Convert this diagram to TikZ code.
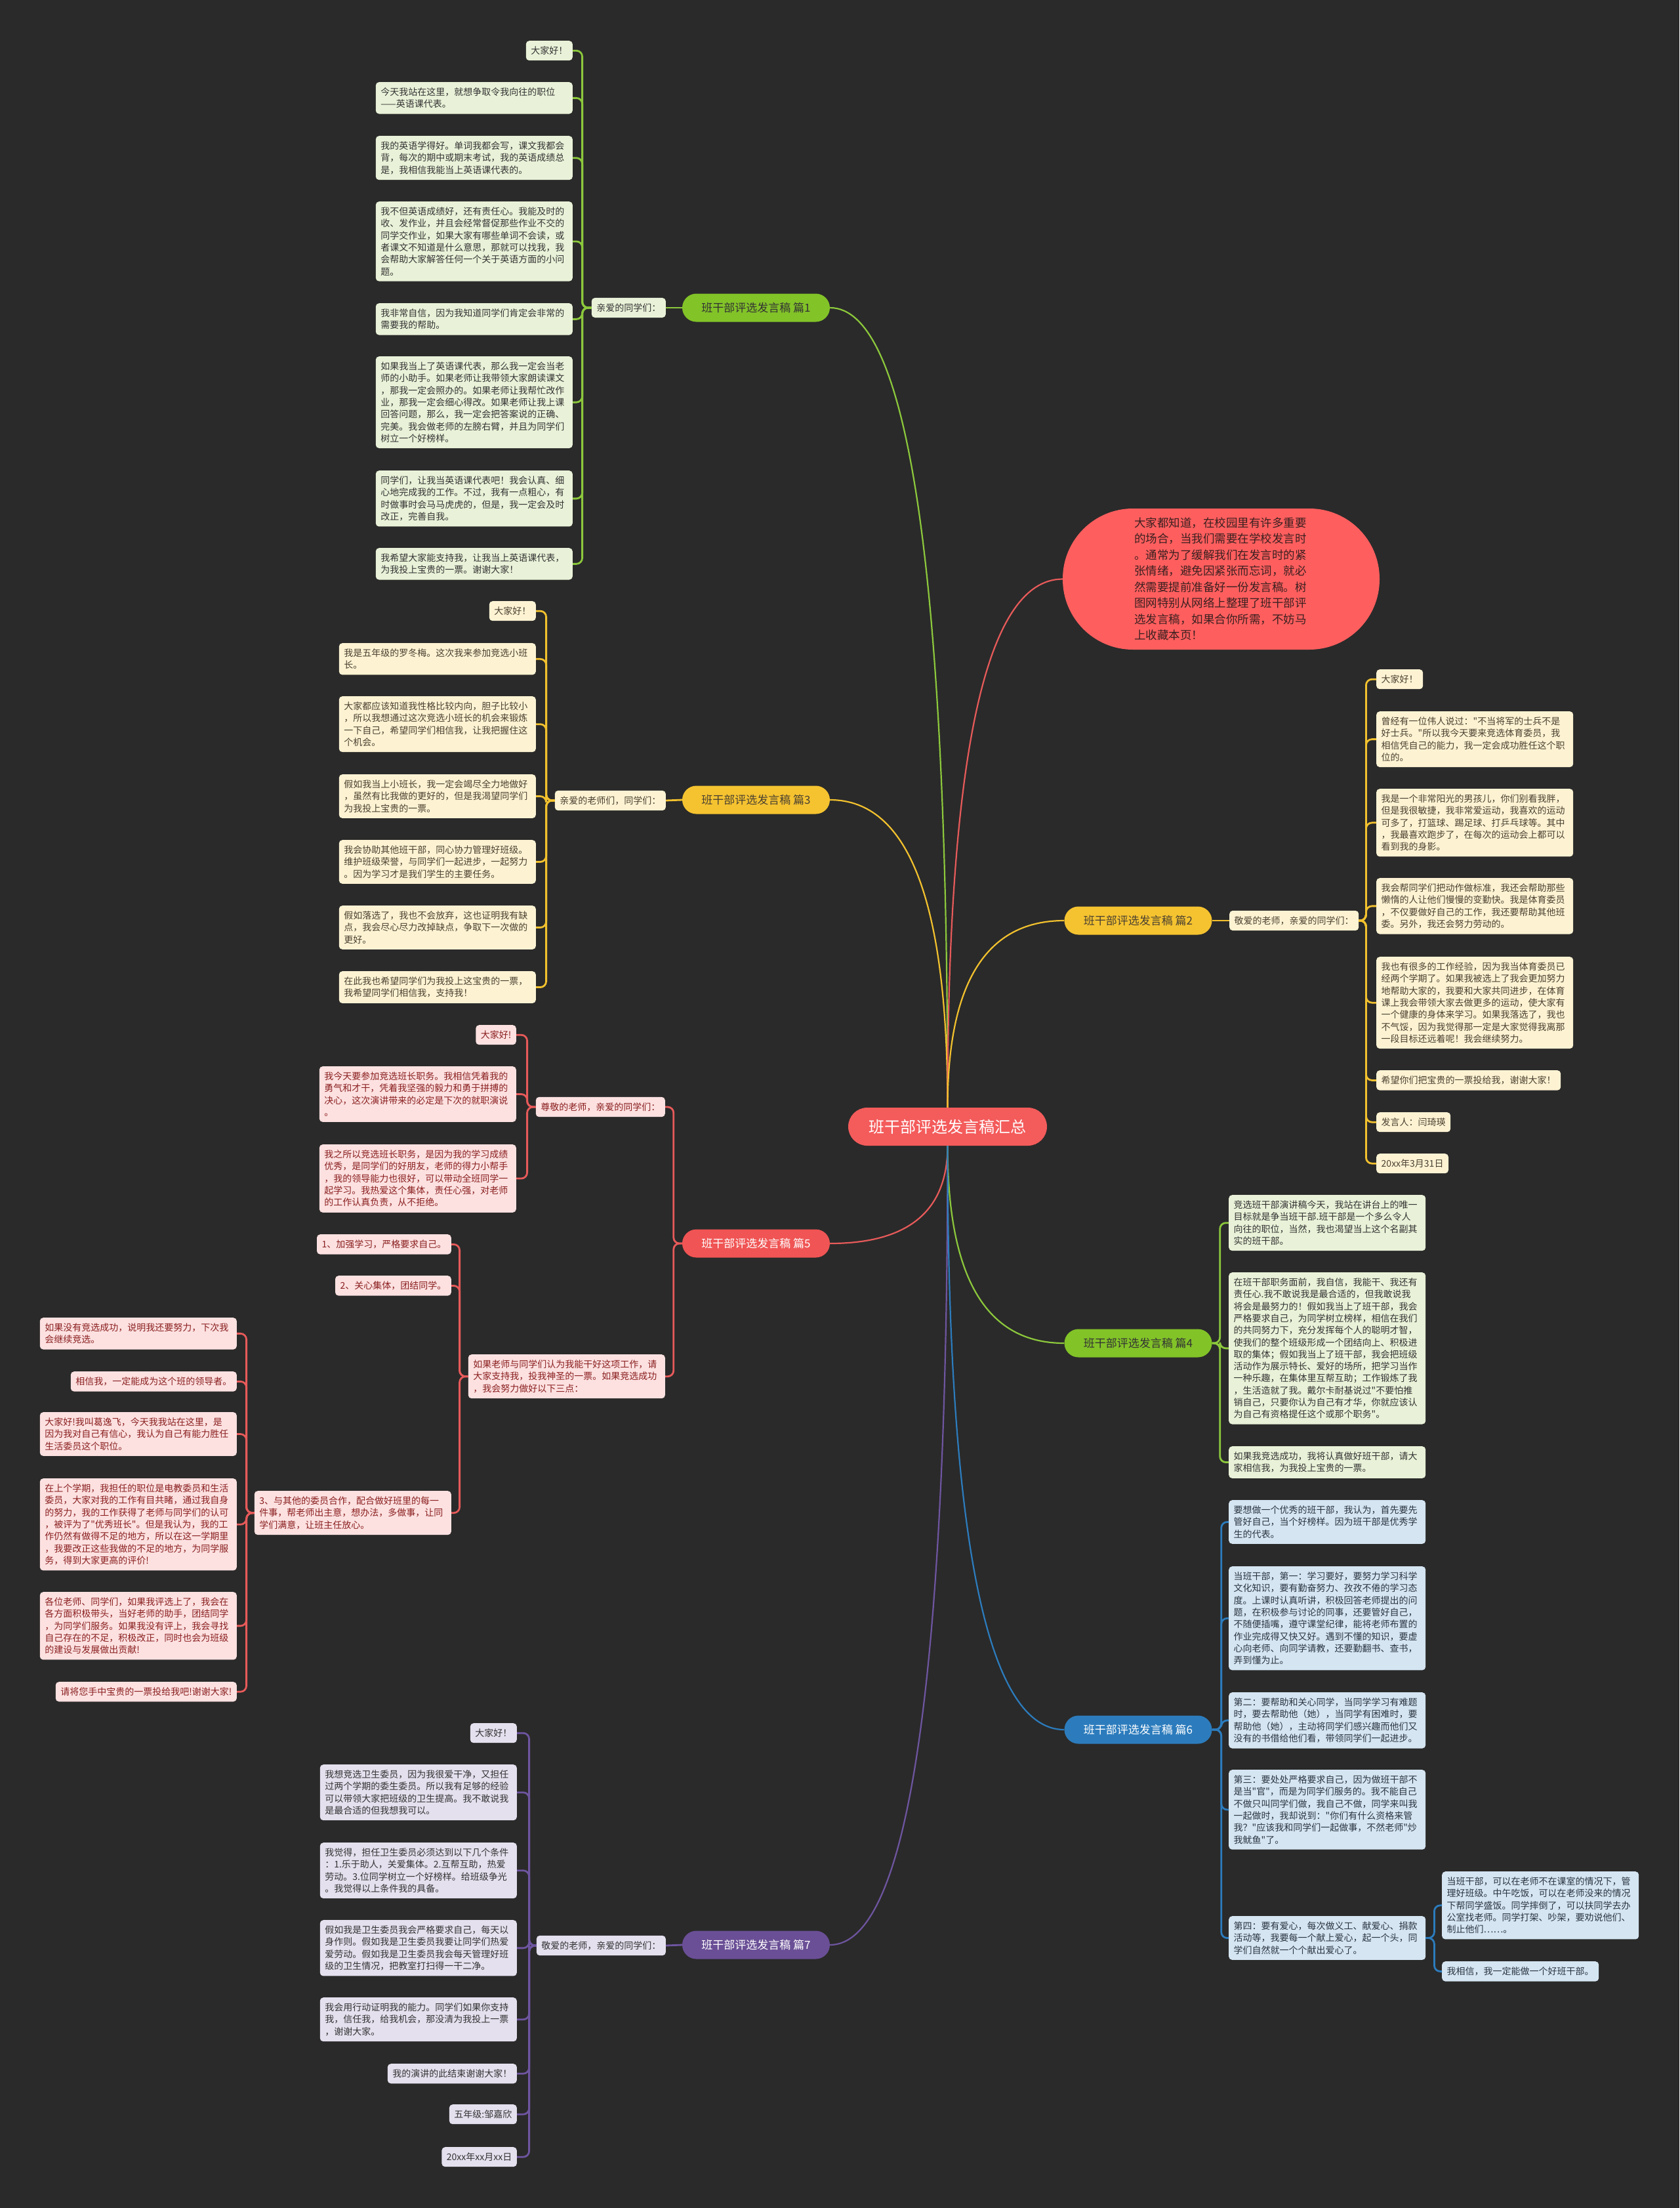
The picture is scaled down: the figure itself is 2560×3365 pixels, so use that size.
\documentclass[tikz,border=0pt]{standalone}
\usepackage{fontspec}
\newfontfamily\cjk{Noto Sans CJK SC}
\definecolor{bg}{HTML}{2A2A2A}
\definecolor{gNode}{HTML}{82C328}
\definecolor{gLeaf}{HTML}{E9F2D8}
\definecolor{gLine}{HTML}{8CC83C}
\definecolor{gTxt}{HTML}{333333}
\definecolor{yNode}{HTML}{F5C330}
\definecolor{yLeaf}{HTML}{FDF3D3}
\definecolor{yLine}{HTML}{F2C12E}
\definecolor{yTxt}{HTML}{4A4030}
\definecolor{rNode}{HTML}{F05454}
\definecolor{rLeaf}{HTML}{FDE1E1}
\definecolor{rLine}{HTML}{E75A5A}
\definecolor{rTxt}{HTML}{8A1F1F}
\definecolor{pNode}{HTML}{6A4F96}
\definecolor{pLeaf}{HTML}{E4E0EE}
\definecolor{pLine}{HTML}{6E55A0}
\definecolor{pTxt}{HTML}{333333}
\definecolor{bNode}{HTML}{2C7CBD}
\definecolor{bLeaf}{HTML}{D5E5F2}
\definecolor{bLine}{HTML}{2C7CBD}
\definecolor{bTxt}{HTML}{2A3440}
\definecolor{rootFill}{HTML}{F45B5B}
\definecolor{introFill}{HTML}{FF5E5E}
\definecolor{introTxt}{HTML}{3A2020}
\tikzset{
  base/.style={rounded corners=5pt, inner xsep=7.5pt, inner ysep=8.5pt,
    font=\cjk\fontsize{14}{18.3}\selectfont, align=left},
  w/.style={text width=285pt},
  gl/.style={base, fill=gLeaf, text=gTxt},
  yl/.style={base, fill=yLeaf, text=yTxt},
  rl/.style={base, fill=rLeaf, text=rTxt},
  pl/.style={base, fill=pLeaf, text=pTxt},
  bl/.style={base, fill=bLeaf, text=bTxt},
  branchbox/.style={rounded corners=21.5pt, minimum width=225pt, minimum height=43pt,
    inner sep=0pt, font=\cjk\fontsize{17}{20}\selectfont},
  spine/.style={line width=2.8pt, rounded corners=9pt},
  curve/.style={line width=2.2pt},
}
\begin{document}
\begin{tikzpicture}[x=1pt,y=-1pt]
\fill[bg] (0,0) rectangle (2560,3365);
\useasboundingbox (0,0) rectangle (2560,3365);

% root and intro
\node[rounded corners=29pt, minimum width=303pt, minimum height=58pt, inner sep=0pt,
  fill=rootFill, text=white, font=\cjk\fontsize{24}{28}\selectfont] (root) at (1444.5,1717) {班干部评选发言稿汇总};
\coordinate (ctop) at (root.north);
\coordinate (cbot) at (root.south);
\node[rounded corners=107pt, minimum width=483pt, minimum height=215pt, text width=265pt,
  align=left, fill=introFill, text=introTxt, font=\cjk\fontsize{17.5}{24.5}\selectfont]
  (intro) at (1861.5,882.5) {大家都知道，在校园里有许多重要\\的场合，当我们需要在学校发言时\\。通常为了缓解我们在发言时的紧\\张情绪，避免因紧张而忘词，就必\\然需要提前准备好一份发言稿。树\\图网特别从网络上整理了班干部评\\选发言稿，如果合你所需，不妨马\\上收藏本页！};

% branch nodes
\node[branchbox, fill=gNode, text=gTxt] (P1) at (1152.5,469) {班干部评选发言稿 篇1};
\node[branchbox, fill=yNode, text=yTxt] (P3) at (1152.5,1219) {班干部评选发言稿 篇3};
\node[branchbox, fill=rNode, text=white] (P5) at (1152.5,1895) {班干部评选发言稿 篇5};
\node[branchbox, fill=pNode, text=white] (P7) at (1152.5,2964) {班干部评选发言稿 篇7};
\node[branchbox, fill=yNode, text=yTxt] (P2) at (1735,1403) {班干部评选发言稿 篇2};
\node[branchbox, fill=gNode, text=gTxt] (P4) at (1735,2047) {班干部评选发言稿 篇4};
\node[branchbox, fill=bNode, text=white] (P6) at (1735,2636) {班干部评选发言稿 篇6};

% root curves
\draw[curve, gLine] (ctop) .. controls +(0,-813) and +(120,0) .. (P1.east);
\draw[curve, yLine] (ctop) .. controls +(0,-313) and +(120,0) .. (P3.east);
\draw[curve, rLine] (ctop) .. controls +(0,-537) and +(-117,0) .. (intro.west);
\draw[curve, yLine] (ctop) .. controls +(0,-190) and +(-119,0) .. (P2.west);
\draw[curve, rLine] (cbot) .. controls +(0,99) and +(120,0) .. (P5.east);
\draw[curve, pLine] (cbot) .. controls +(0,812) and +(120,0) .. (P7.east);
\draw[curve, gLine] (cbot) .. controls +(0,201) and +(-119,0) .. (P4.west);
\draw[curve, bLine] (cbot) .. controls +(0,593) and +(-119,0) .. (P6.west);

% ---------- branch 1 ----------
\node[gl, anchor=east] (g0) at (1015,469) {亲爱的同学们：};
\node[gl, anchor=north east] (g1) at (873,62) {大家好！};
\node[gl, w, anchor=north east] (g2) at (873,125) {今天我站在这里，就想争取令我向往的职位\\——英语课代表。};
\node[gl, w, anchor=north east] (g3) at (873,207) {我的英语学得好。单词我都会写，课文我都会\\背，每次的期中或期末考试，我的英语成绩总\\是，我相信我能当上英语课代表的。};
\node[gl, w, anchor=north east] (g4) at (873,307) {我不但英语成绩好，还有责任心。我能及时的\\收、发作业，并且会经常督促那些作业不交的\\同学交作业，如果大家有哪些单词不会读，或\\者课文不知道是什么意思，那就可以找我，我\\会帮助大家解答任何一个关于英语方面的小问\\题。};
\node[gl, w, anchor=north east] (g5) at (873,462) {我非常自信，因为我知道同学们肯定会非常的\\需要我的帮助。};
\node[gl, w, anchor=north east] (g6) at (873,543) {如果我当上了英语课代表，那么我一定会当老\\师的小助手。如果老师让我带领大家朗读课文\\，那我一定会照办的。如果老师让我帮忙改作\\业，那我一定会细心得改。如果老师让我上课\\回答问题，那么，我一定会把答案说的正确、\\完美。我会做老师的左膀右臂，并且为同学们\\树立一个好榜样。};
\node[gl, w, anchor=north east] (g7) at (873,717) {同学们，让我当英语课代表吧！我会认真、细\\心地完成我的工作。不过，我有一点粗心，有\\时做事时会马马虎虎的，但是，我一定会及时\\改正，完善自我。};
\node[gl, w, anchor=north east] (g8) at (873,835) {我希望大家能支持我，让我当上英语课代表，\\为我投上宝贵的一票。谢谢大家！};
\draw[spine, gLine] (P1.west) -- (g0.east);
\foreach \c in {g1,g2,g3,g4,g5,g6,g7,g8}
  \draw[spine, gLine] (g0.west) -- ++(-14,0) |- (\c.east);

% ---------- branch 3 ----------
\node[yl, anchor=east] (y0) at (1015,1220) {亲爱的老师们，同学们：};
\node[yl, anchor=north east] (y1) at (817,916) {大家好！};
\node[yl, w, anchor=north east] (y2) at (817,980) {我是五年级的罗冬梅。这次我来参加竞选小班\\长。};
\node[yl, w, anchor=north east] (y3) at (817,1061) {大家都应该知道我性格比较内向，胆子比较小\\，所以我想通过这次竞选小班长的机会来锻炼\\一下自己，希望同学们相信我，让我把握住这\\个机会。};
\node[yl, w, anchor=north east] (y4) at (817,1180) {假如我当上小班长，我一定会竭尽全力地做好\\，虽然有比我做的更好的，但是我渴望同学们\\为我投上宝贵的一票。};
\node[yl, w, anchor=north east] (y5) at (817,1280) {我会协助其他班干部，同心协力管理好班级。\\维护班级荣誉，与同学们一起进步，一起努力\\。因为学习才是我们学生的主要任务。};
\node[yl, w, anchor=north east] (y6) at (817,1380) {假如落选了，我也不会放弃，这也证明我有缺\\点，我会尽心尽力改掉缺点，争取下一次做的\\更好。};
\node[yl, w, anchor=north east] (y7) at (817,1480) {在此我也希望同学们为我投上这宝贵的一票，\\我希望同学们相信我，支持我！};
\draw[spine, yLine] (P3.west) -- (y0.east);
\foreach \c in {y1,y2,y3,y4,y5,y6,y7}
  \draw[spine, yLine] (y0.west) -- ++(-13,0) |- (\c.east);

% ---------- branch 5 ----------
\node[rl, anchor=east] (r0) at (1014,1687) {尊敬的老师，亲爱的同学们：};
\node[rl, anchor=north east] (r1) at (787,1562) {大家好!};
\node[rl, w, anchor=north east] (r2) at (787,1625) {我今天要参加竞选班长职务。我相信凭着我的\\勇气和才干，凭着我坚强的毅力和勇于拼搏的\\决心，这次演讲带来的必定是下次的就职演说\\。};
\node[rl, w, anchor=north east] (r3) at (787,1744) {我之所以竞选班长职务，是因为我的学习成绩\\优秀，是同学们的好朋友，老师的得力小帮手\\，我的领导能力也很好，可以带动全班同学一\\起学习。我热爱这个集体，责任心强，对老师\\的工作认真负责，从不拒绝。};
\node[rl, w, anchor=north east] (r4) at (1014,2064) {如果老师与同学们认为我能干好这项工作，请\\大家支持我，投我神圣的一票。如果竞选成功\\，我会努力做好以下三点：};
\node[rl, anchor=north east] (r5) at (688,1881) {1、加强学习，严格要求自己。};
\node[rl, anchor=north east] (r6) at (688,1944) {2、关心集体，团结同学。};
\node[rl, w, anchor=north east] (r7) at (688,2272) {3、与其他的委员合作，配合做好班里的每一\\件事，帮老师出主意，想办法，多做事，让同\\学们满意，让班主任放心。};
\node[rl, w, anchor=north east] (r8) at (361,2008) {如果没有竞选成功，说明我还要努力，下次我\\会继续竞选。};
\node[rl, anchor=north east] (r9) at (361,2090) {相信我，一定能成为这个班的领导者。};
\node[rl, w, anchor=north east] (r10) at (361,2152) {大家好!我叫葛逸飞，今天我我站在这里，是\\因为我对自己有信心，我认为自己有能力胜任\\生活委员这个职位。};
\node[rl, w, anchor=north east] (r11) at (361,2253) {在上个学期，我担任的职位是电教委员和生活\\委员，大家对我的工作有目共睹，通过我自身\\的努力，我的工作获得了老师与同学们的认可\\，被评为了"优秀班长"。但是我认为，我的工\\作仍然有做得不足的地方，所以在这一学期里\\，我要改正这些我做的不足的地方，为同学服\\务，得到大家更高的评价!};
\node[rl, w, anchor=north east] (r12) at (361,2426) {各位老师、同学们，如果我评选上了，我会在\\各方面积极带头，当好老师的助手，团结同学\\，为同学们服务。如果我没有评上，我会寻找\\自己存在的不足，积极改正，同时也会为班级\\的建设与发展做出贡献!};
\node[rl, anchor=north east] (r13) at (361,2563) {请将您手中宝贵的一票投给我吧!谢谢大家!};
\foreach \c in {r0,r4}
  \draw[spine, rLine] (P5.west) -- ++(-13,0) |- (\c.east);
\foreach \c in {r1,r2,r3}
  \draw[spine, rLine] (r0.west) -- ++(-13,0) |- (\c.east);
\foreach \c in {r5,r6,r7}
  \draw[spine, rLine] (r4.west) -- ++(-13,0) |- (\c.east);
\foreach \c in {r8,r9,r10,r11,r12,r13}
  \draw[spine, rLine] (r7.west) -- ++(-12,0) |- (\c.east);

% ---------- branch 7 ----------
\node[pl, anchor=east] (p0) at (1015,2965) {敬爱的老师，亲爱的同学们：};
\node[pl, anchor=north east] (p1) at (788,2626) {大家好！};
\node[pl, w, anchor=north east] (p2) at (788,2689) {我想竞选卫生委员，因为我很爱干净，又担任\\过两个学期的委生委员。所以我有足够的经验\\可以带领大家把班级的卫生提高。我不敢说我\\是最合适的但我想我可以。};
\node[pl, w, anchor=north east] (p3) at (788,2808) {我觉得，担任卫生委员必须达到以下几个条件\\：1.乐于助人，关爱集体。2.互帮互助，热爱\\劳动。3.位同学树立一个好榜样。给班级争光\\。我觉得以上条件我的具备。};
\node[pl, w, anchor=north east] (p4) at (788,2926) {假如我是卫生委员我会严格要求自己，每天以\\身作则。假如我是卫生委员我要让同学们热爱\\爱劳动。假如我是卫生委员我会每天管理好班\\级的卫生情况，把教室打扫得一干二净。};
\node[pl, w, anchor=north east] (p5) at (788,3044) {我会用行动证明我的能力。同学们如果你支持\\我，信任我，给我机会，那没清为我投上一票\\，谢谢大家。};
\node[pl, anchor=north east] (p6) at (788,3145) {我的演讲的此结束谢谢大家！};
\node[pl, anchor=north east] (p7) at (788,3207) {五年级:邹嘉欣};
\node[pl, anchor=north east] (p8) at (788,3272) {20xx年xx月xx日};
\draw[spine, pLine] (P7.west) -- (p0.east);
\foreach \c in {p1,p2,p3,p4,p5,p6,p7,p8}
  \draw[spine, pLine] (p0.west) -- ++(-11,0) |- (\c.east);

% ---------- branch 2 ----------
\node[yl, anchor=west] (q0) at (1874,1403) {敬爱的老师，亲爱的同学们：};
\node[yl, anchor=north west] (q1) at (2098,1020) {大家好！};
\node[yl, w, anchor=north west] (q2) at (2098,1084) {曾经有一位伟人说过："不当将军的士兵不是\\好士兵。"所以我今天要来竞选体育委员，我\\相信凭自己的能力，我一定会成功胜任这个职\\位的。};
\node[yl, w, anchor=north west] (q3) at (2098,1202) {我是一个非常阳光的男孩儿，你们别看我胖，\\但是我很敏捷，我非常爱运动，我喜欢的运动\\可多了，打篮球、踢足球、打乒乓球等。其中\\，我最喜欢跑步了，在每次的运动会上都可以\\看到我的身影。};
\node[yl, w, anchor=north west] (q4) at (2098,1338) {我会帮同学们把动作做标准，我还会帮助那些\\懒惰的人让他们慢慢的变勤快。我是体育委员\\，不仅要做好自己的工作，我还要帮助其他班\\委。另外，我还会努力劳动的。};
\node[yl, w, anchor=north west] (q5) at (2098,1458) {我也有很多的工作经验，因为我当体育委员已\\经两个学期了。如果我被选上了我会更加努力\\地帮助大家的，我要和大家共同进步，在体育\\课上我会带领大家去做更多的运动，使大家有\\一个健康的身体来学习。如果我落选了，我也\\不气馁，因为我觉得那一定是大家觉得我离那\\一段目标还远着呢！我会继续努力。};
\node[yl, anchor=north west] (q6) at (2098,1631) {希望你们把宝贵的一票投给我，谢谢大家！};
\node[yl, anchor=north west] (q7) at (2098,1695) {发言人：闫琦瑛};
\node[yl, anchor=north west] (q8) at (2098,1758) {20xx年3月31日};
\draw[spine, yLine] (P2.east) -- (q0.west);
\foreach \c in {q1,q2,q3,q4,q5,q6,q7,q8}
  \draw[spine, yLine] (q0.east) -- ++(11,0) |- (\c.west);

% ---------- branch 4 ----------
\node[gl, w, anchor=north west] (h1) at (1873,1821) {竞选班干部演讲稿今天，我站在讲台上的唯一\\目标就是争当班干部.班干部是一个多么令人\\向往的职位，当然，我也渴望当上这个名副其\\实的班干部。};
\node[gl, w, anchor=north west] (h2) at (1873,1939) {在班干部职务面前，我自信，我能干、我还有\\责任心.我不敢说我是最合适的，但我敢说我\\将会是最努力的！假如我当上了班干部，我会\\严格要求自己，为同学树立榜样，相信在我们\\的共同努力下，充分发挥每个人的聪明才智，\\使我们的整个班级形成一个团结向上、积极进\\取的集体；假如我当上了班干部，我会把班级\\活动作为展示特长、爱好的场所，把学习当作\\一种乐趣，在集体里互帮互助；工作锻炼了我\\，生活造就了我。戴尔卡耐基说过"不要怕推\\销自己，只要你认为自己有才华，你就应该认\\为自己有资格提任这个或那个职务"。};
\node[gl, w, anchor=north west] (h3) at (1873,2204) {如果我竞选成功，我将认真做好班干部，请大\\家相信我，为我投上宝贵的一票。};
\foreach \c in {h1,h2,h3}
  \draw[spine, gLine] (P4.east) -- ++(12,0) |- (\c.west);

% ---------- branch 6 ----------
\node[bl, w, anchor=north west] (b1) at (1873,2286) {要想做一个优秀的班干部，我认为，首先要先\\管好自己，当个好榜样。因为班干部是优秀学\\生的代表。};
\node[bl, w, anchor=north west] (b2) at (1873,2387) {当班干部，第一：学习要好，要努力学习科学\\文化知识，要有勤奋努力、孜孜不倦的学习态\\度。上课时认真听讲，积极回答老师提出的问\\题，在积极参与讨论的同事，还要管好自己，\\不随便插嘴，遵守课堂纪律，能将老师布置的\\作业完成得又快又好。遇到不懂的知识，要虚\\心向老师、向同学请教，还要勤翻书、查书，\\弄到懂为止。};
\node[bl, w, anchor=north west] (b3) at (1873,2579) {第二：要帮助和关心同学，当同学学习有难题\\时，要去帮助他（她），当同学有困难时，要\\帮助他（她），主动将同学们感兴趣而他们又\\没有的书借给他们看，带领同学们一起进步。};
\node[bl, w, anchor=north west] (b4) at (1873,2697) {第三：要处处严格要求自己，因为做班干部不\\是当"官"，而是为同学们服务的。我不能自己\\不做只叫同学们做，我自己不做，同学来叫我\\一起做时，我却说到："你们有什么资格来管\\我？"应该我和同学们一起做事，不然老师"炒\\我鱿鱼"了。};
\node[bl, w, anchor=north west] (b5) at (1873,2920) {第四：要有爱心，每次做义工、献爱心、捐款\\活动等，我要每一个献上爱心，起一个头，同\\学们自然就一个个献出爱心了。};
\node[bl, w, anchor=north west] (b6) at (2198,2852) {当班干部，可以在老师不在课室的情况下，管\\理好班级。中午吃饭，可以在老师没来的情况\\下帮同学盛饭。同学摔倒了，可以扶同学去办\\公室找老师。同学打架、吵架，要劝说他们、\\制止他们……。};
\node[bl, anchor=north west] (b7) at (2198,2989) {我相信，我一定能做一个好班干部。};
\foreach \c in {b1,b2,b3,b4,b5}
  \draw[spine, bLine] (P6.east) -- ++(14,0) |- (\c.west);
\foreach \c in {b6,b7}
  \draw[spine, bLine] (b5.east) -- ++(13,0) |- (\c.west);
\end{tikzpicture}
\end{document}
